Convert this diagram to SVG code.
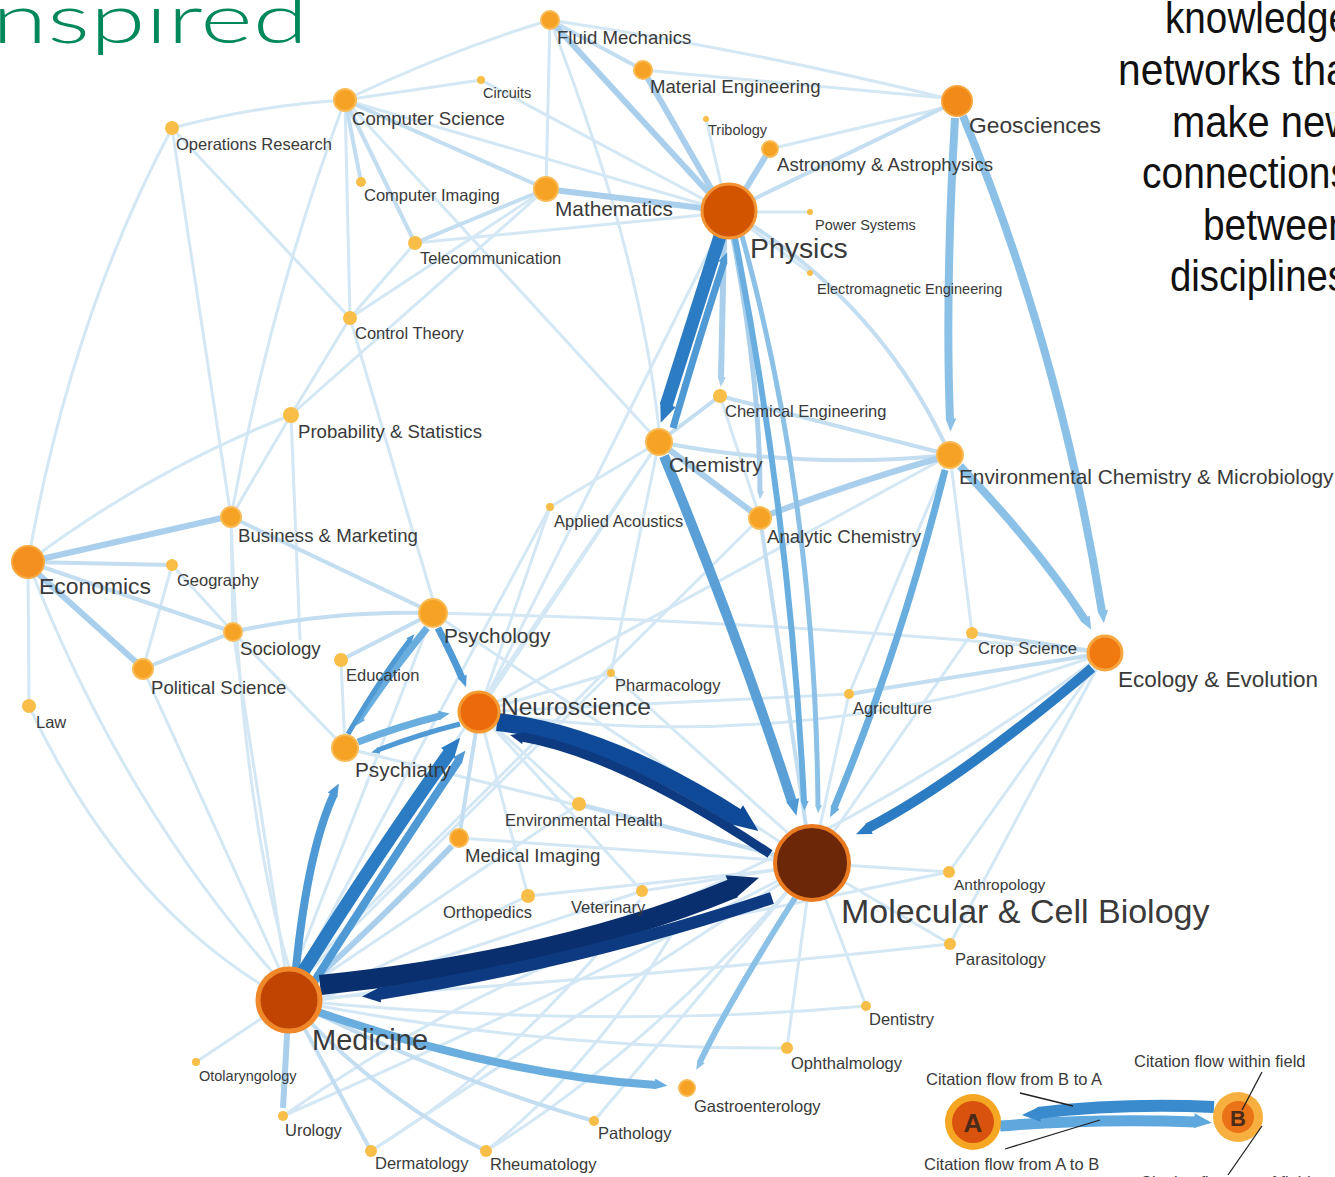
<svg xmlns="http://www.w3.org/2000/svg" width="1335" height="1177" viewBox="0 0 1335 1177">
<style>
text{font-family:"Liberation Sans",Arial,sans-serif;fill:#3a3a3a}
.xs{font-size:14.5px}.s{font-size:16.5px}.m{font-size:18.6px}.l{font-size:20.8px}
.ns{fill:#f8be48}
.nm{fill:#f6a225;stroke:#f9bb55;stroke-width:2}
.l0{fill:none;stroke:#d4e7f5;stroke-width:3}
.l1{fill:none;stroke:#c3ddf1;stroke-width:4}
.l2{fill:none;stroke:#a9cfec;stroke-width:6}
.tk{fill:none}
.lead{stroke:#222;stroke-width:1.3;fill:none}
.side{font-family:"Liberation Sans Narrow","Liberation Sans",Arial,sans-serif;font-size:44px;fill:#111;text-anchor:start}
</style>
<defs>
<marker id="a-navy" viewBox="0 0 10 10" refX="1" refY="5" markerWidth="1.6" markerHeight="1.5" orient="auto"><path d="M0,0 L10,5 L0,8.4 z" fill="#0a2f6e"/></marker>
<marker id="a-navy2" viewBox="0 0 10 10" refX="1" refY="5" markerWidth="1.6" markerHeight="1.5" orient="auto"><path d="M0,0 L10,5 L0,8.4 z" fill="#0f4a98"/></marker>
<marker id="a-navy3" viewBox="0 0 10 10" refX="1" refY="5" markerWidth="1.6" markerHeight="1.5" orient="auto"><path d="M0,0 L10,5 L0,8.4 z" fill="#0d3a80"/></marker>
<marker id="a-b1" viewBox="0 0 10 10" refX="1" refY="5" markerWidth="1.6" markerHeight="1.5" orient="auto"><path d="M0,0 L10,5 L0,8.4 z" fill="#2b7cc2"/></marker>
<marker id="a-b2" viewBox="0 0 10 10" refX="1" refY="5" markerWidth="1.7" markerHeight="1.6" orient="auto"><path d="M0,0 L10,5 L0,8.4 z" fill="#4f9ad4"/></marker>
<marker id="a-b3" viewBox="0 0 10 10" refX="1" refY="5" markerWidth="1.7" markerHeight="1.6" orient="auto"><path d="M0,0 L10,5 L0,8.4 z" fill="#6aaedf"/></marker>
<marker id="a-b4" viewBox="0 0 10 10" refX="1" refY="5" markerWidth="1.7" markerHeight="1.6" orient="auto"><path d="M0,0 L10,5 L0,8.4 z" fill="#8cc1e7"/></marker>
<marker id="a-b5" viewBox="0 0 10 10" refX="1" refY="5" markerWidth="1.7" markerHeight="1.6" orient="auto"><path d="M0,0 L10,5 L0,8.4 z" fill="#a9cfec"/></marker>
<marker id="a-lg1" viewBox="0 0 10 10" refX="1" refY="5" markerWidth="1.8" markerHeight="1.6" orient="auto"><path d="M0,0 L10,5 L0,8.4 z" fill="#5ea8de"/></marker>
<marker id="a-lg2" viewBox="0 0 10 10" refX="1" refY="5" markerWidth="1.6" markerHeight="1.5" orient="auto"><path d="M0,0 L10,5 L0,8.4 z" fill="#3a8bcd"/></marker>
</defs>
<rect width="1335" height="1177" fill="#ffffff"/>

<text x="-8" y="43" font-family="Lato,'Open Sans',sans-serif" font-weight="300" font-size="68" style="fill:#00885a;font-family:Lato,'Open Sans',sans-serif" textLength="316" lengthAdjust="spacingAndGlyphs">nspired</text>

<g id="side-text">
<text class="side" x="1165" y="33" textLength="185" lengthAdjust="spacingAndGlyphs">knowledge</text>
<text class="side" x="1118" y="85" textLength="242" lengthAdjust="spacingAndGlyphs">networks that</text>
<text class="side" x="1172" y="137" textLength="182" lengthAdjust="spacingAndGlyphs">make new</text>
<text class="side" x="1142" y="188" textLength="208" lengthAdjust="spacingAndGlyphs">connections</text>
<text class="side" x="1203" y="240" textLength="147" lengthAdjust="spacingAndGlyphs">between</text>
<text class="side" x="1170" y="291" textLength="177" lengthAdjust="spacingAndGlyphs">disciplines</text>
</g>

<g id="connectors">
<path class="l0" d="M172,128 Q260,105 345,100"/>
<path class="l0" d="M172,128 L350,318"/>
<path class="l0" d="M172,128 L231,517"/>
<path class="l0" d="M172,128 Q70,320 28,562"/>
<path class="l0" d="M345,100 Q450,50 550,20"/>
<path class="l0" d="M345,100 L481,80"/>
<path class="l0" d="M345,100 L350,318"/>
<path class="l0" d="M345,100 Q270,300 231,517"/>
<path class="l0" d="M345,100 L705,205"/>
<path class="l0" d="M345,100 L659,442"/>
<path class="l0" d="M481,80 L705,200"/>
<path class="l0" d="M550,20 L546,189"/>
<path class="l0" d="M550,20 Q750,50 945,98"/>
<path class="l0" d="M550,20 Q640,250 659,430"/>
<path class="l0" d="M643,70 L945,98"/>
<path class="l0" d="M706,119 L722,188"/>
<path class="l0" d="M770,149 L943,108"/>
<path class="l0" d="M810,212 L756,212"/>
<path class="l0" d="M810,273 L750,228"/>
<path class="l0" d="M415,243 L703,215"/>
<path class="l0" d="M415,243 L350,318"/>
<path class="l0" d="M546,189 L350,318"/>
<path class="l0" d="M291,415 L546,189"/>
<path class="l0" d="M291,415 Q150,470 28,562"/>
<path class="l0" d="M291,415 L231,517"/>
<path class="l0" d="M291,415 L300,640"/>
<path class="l0" d="M350,318 L433,600"/>
<path class="l0" d="M350,318 L291,415"/>
<path class="l0" d="M231,517 L233,632"/>
<path class="l0" d="M231,517 Q240,800 289,968"/>
<path class="l0" d="M28,562 L29,706"/>
<path class="l0" d="M28,562 Q120,800 275,975"/>
<path class="l0" d="M172,565 L143,669"/>
<path class="l0" d="M172,565 L233,632"/>
<path class="l0" d="M233,632 L345,748"/>
<path class="l0" d="M233,632 L285,968"/>
<path class="l0" d="M143,669 L280,970"/>
<path class="l0" d="M29,706 Q120,900 270,990"/>
<path class="l0" d="M433,613 Q770,620 1105,653"/>
<path class="l0" d="M433,613 L295,968"/>
<path class="l0" d="M341,660 L345,748"/>
<path class="l0" d="M479,712 L611,673"/>
<path class="l0" d="M479,712 L579,804"/>
<path class="l0" d="M479,712 L528,896"/>
<path class="l0" d="M479,712 L642,891"/>
<path class="l0" d="M479,712 Q800,760 1105,653"/>
<path class="l0" d="M479,712 L659,442"/>
<path class="l0" d="M479,712 L550,507"/>
<path class="l0" d="M479,712 L849,694"/>
<path class="l0" d="M479,712 L950,455"/>
<path class="l0" d="M659,442 L300,970"/>
<path class="l0" d="M659,442 L611,673"/>
<path class="l0" d="M659,442 L550,507"/>
<path class="l0" d="M720,396 L760,518"/>
<path class="l0" d="M760,518 L300,975"/>
<path class="l0" d="M729,211 L479,712"/>
<path class="l0" d="M950,455 L972,633"/>
<path class="l0" d="M950,455 L849,694"/>
<path class="l0" d="M812,863 L849,694"/>
<path class="l0" d="M812,863 L972,633"/>
<path class="l0" d="M812,863 L949,872"/>
<path class="l0" d="M812,863 L950,944"/>
<path class="l0" d="M812,863 L866,1006"/>
<path class="l0" d="M812,863 L787,1048"/>
<path class="l0" d="M812,863 L594,1121"/>
<path class="l0" d="M812,863 Q650,1050 486,1151"/>
<path class="l0" d="M812,863 Q600,1000 371,1151"/>
<path class="l0" d="M812,863 Q550,1000 283,1116"/>
<path class="l0" d="M812,863 L433,613"/>
<path class="l0" d="M812,863 L345,748"/>
<path class="l0" d="M1105,653 L949,872"/>
<path class="l0" d="M1105,653 L950,944"/>
<path class="l0" d="M1105,653 Q700,950 320,1000"/>
<path class="l0" d="M289,1000 Q600,1030 866,1006"/>
<path class="l0" d="M289,1000 Q540,1050 787,1048"/>
<path class="l0" d="M289,1000 L196,1062"/>
<path class="l0" d="M289,1000 Q620,940 949,872"/>
<path class="l0" d="M289,1000 Q620,980 950,944"/>
<path class="l0" d="M459,838 L775,860"/>
<path class="l0" d="M579,804 L310,985"/>
<path class="l0" d="M528,896 L320,995"/>
<path class="l0" d="M528,896 L775,870"/>
<path class="l0" d="M642,891 L775,870"/>
<path class="l0" d="M642,891 L320,998"/>
<path class="l0" d="M611,673 L790,835"/>
<path class="l0" d="M611,673 L305,975"/>
<path class="l0" d="M550,507 L300,972"/>
<path class="l0" d="M283,1116 Q420,1020 560,960"/>
<path class="l0" d="M371,1151 Q520,1060 640,900"/>
<path class="l0" d="M486,1151 Q600,1060 680,920"/>
<path class="l1" d="M345,100 L415,243"/>
<path class="l1" d="M345,100 L546,189"/>
<path class="l1" d="M345,100 L361,182"/>
<path class="l1" d="M550,20 L643,70"/>
<path class="l1" d="M957,101 L729,211"/>
<path class="l1" d="M546,189 L415,243"/>
<path class="l1" d="M231,517 L433,613"/>
<path class="l1" d="M28,562 L172,565"/>
<path class="l1" d="M28,562 L233,632"/>
<path class="l1" d="M233,632 Q330,610 433,613"/>
<path class="l1" d="M233,632 L143,669"/>
<path class="l1" d="M433,613 L341,660"/>
<path class="l1" d="M479,712 L459,838"/>
<path class="l1" d="M659,442 L720,396"/>
<path class="l1" d="M659,442 Q800,470 950,455"/>
<path class="l1" d="M720,396 L950,455"/>
<path class="l1" d="M760,518 L806,826"/>
<path class="l1" d="M729,211 Q880,300 950,455"/>
<path class="l1" d="M1105,653 L849,694"/>
<path class="l1" d="M1105,653 L972,633"/>
<path class="l1" d="M289,1000 Q450,1080 594,1121"/>
<path class="l1" d="M289,1000 Q380,1100 486,1151"/>
<path class="l1" d="M289,1000 L371,1151"/>
<path class="l1" d="M579,804 L775,855"/>
<path class="l2" d="M28,562 L222,518"/>
<path class="l2" d="M36,572 L136,662"/>
<path class="l2" d="M289,1000 L283,1108"/>
<path class="l2" d="M659,442 L752,512"/>
<path class="l2" d="M760,518 Q860,480 940,458"/>
<path class="l2" d="M643,70 L712,190"/>
<path class="l2" d="M550,20 L708,192"/>
<path class="l2" d="M546,189 L702,208"/>
<path class="l2" d="M770,149 L745,190"/>
<path class="l2" d="M452,846 Q380,920 312,982"/>

<path class="tk" d="M724,238 L721,378" stroke="#a9cfec" stroke-width="6" marker-end="url(#a-b5)"/>
<path class="tk" d="M733,238 Q760,380 760,492" stroke="#a9cfec" stroke-width="5" marker-end="url(#a-b5)"/>
<path class="tk" d="M955,118 Q945,290 950,420" stroke="#8cc1e7" stroke-width="8" marker-end="url(#a-b4)"/>
<path class="tk" d="M963,116 Q1060,350 1102,612" stroke="#8cc1e7" stroke-width="8" marker-end="url(#a-b4)"/>
<path class="tk" d="M960,466 Q1040,550 1085,620" stroke="#8cc1e7" stroke-width="8" marker-end="url(#a-b4)"/>
<path class="tk" d="M945,470 Q900,650 834,808" stroke="#6aaedf" stroke-width="7" marker-end="url(#a-b3)"/>
<path class="tk" d="M735,238 Q790,520 804,802" stroke="#6aaedf" stroke-width="6" marker-end="url(#a-b3)"/>
<path class="tk" d="M742,236 Q815,500 818,806" stroke="#8cc1e7" stroke-width="5" marker-end="url(#a-b4)"/>
<path class="tk" d="M664,456 Q740,640 792,802" stroke="#5aa0d6" stroke-width="10" marker-end="url(#a-b2)"/>
<path class="tk" d="M1092,668 Q960,780 868,828" stroke="#2b7cc2" stroke-width="10" marker-end="url(#a-b1)"/>
<path class="tk" d="M318,1012 Q500,1075 656,1085" stroke="#6aaedf" stroke-width="8" marker-end="url(#a-b3)"/>
<path class="tk" d="M795,898 Q730,1000 700,1062" stroke="#8cc1e7" stroke-width="6" marker-end="url(#a-b4)"/>
<path class="tk" d="M720,236 Q690,330 666,406" stroke="#2b7cc2" stroke-width="13" marker-end="url(#a-b1)"/>
<path class="tk" d="M673,428 Q700,335 724,262" stroke="#4f9ad4" stroke-width="7" marker-end="url(#a-b2)"/>
<path class="tk" d="M438,628 Q452,655 462,678" stroke="#4f9ad4" stroke-width="7" marker-end="url(#a-b2)"/>
<path class="tk" d="M427,628 Q385,680 360,718" stroke="#6aaedf" stroke-width="7" marker-end="url(#a-b3)"/>
<path class="tk" d="M348,734 Q382,676 410,640" stroke="#4f9ad4" stroke-width="5" marker-end="url(#a-b2)"/>
<path class="tk" d="M358,742 Q400,726 440,716" stroke="#6aaedf" stroke-width="7" marker-end="url(#a-b3)"/>
<path class="tk" d="M460,724 Q420,734 378,750" stroke="#4f9ad4" stroke-width="5" marker-end="url(#a-b2)"/>
<path class="tk" d="M296,968 Q308,850 334,794" stroke="#4f9ad4" stroke-width="8" marker-end="url(#a-b2)"/>
<path class="tk" d="M314,982 Q393,858 459,760" stroke="#4f9ad4" stroke-width="8" marker-end="url(#a-b2)"/>
<path class="tk" d="M303,972 Q380,850 450,752" stroke="#2b7cc2" stroke-width="13" marker-end="url(#a-b1)"/>
<path class="tk" d="M497,722 Q605,733 738,818" stroke="#0f4a98" stroke-width="18" marker-end="url(#a-navy2)"/>
<path class="tk" d="M770,854 Q620,754 522,737" stroke="#0d3a80" stroke-width="9" marker-end="url(#a-navy3)"/>
<path class="tk" d="M320,985 Q560,960 734,888" stroke="#0a2f6e" stroke-width="20" marker-end="url(#a-navy)"/>
<path class="tk" d="M772,898 Q580,962 378,994" stroke="#0d3a80" stroke-width="12" marker-end="url(#a-navy3)"/>
</g>

<g id="n-fluid"><circle class="nm" cx="550" cy="20" r="9"/><text class="m" x="557" y="44">Fluid Mechanics</text></g>
<g id="n-material"><circle class="nm" cx="643" cy="70" r="9"/><text class="m" x="650" y="93">Material Engineering</text></g>
<g id="n-circuits"><circle class="ns" cx="481" cy="80" r="4"/><text class="xs" x="483" y="98">Circuits</text></g>
<g id="n-cs"><circle class="nm" cx="345" cy="100" r="11"/><text class="m" x="352" y="125">Computer Science</text></g>
<g id="n-or"><circle class="ns" cx="172" cy="128" r="7"/><text class="s" x="176" y="150">Operations Research</text></g>
<g id="n-tribology"><circle class="ns" cx="706" cy="119" r="3"/><text class="xs" x="708" y="135">Tribology</text></g>
<g id="n-geo"><circle cx="957" cy="101" r="15" fill="#f28a1a" stroke="#f7a43c" stroke-width="2"/><text x="969" y="133" font-size="22.8">Geosciences</text></g>
<g id="n-astro"><circle class="nm" cx="770" cy="149" r="8"/><text class="m" x="777" y="171">Astronomy &amp; Astrophysics</text></g>
<g id="n-cimg"><circle class="ns" cx="361" cy="182" r="5"/><text class="s" x="364" y="201">Computer Imaging</text></g>
<g id="n-math"><circle class="nm" cx="546" cy="189" r="12"/><text class="l" x="555" y="216">Mathematics</text></g>
<g id="n-physics"><circle cx="729" cy="211" r="27" fill="#d35400" stroke="#f29433" stroke-width="3"/><text x="750" y="258" font-size="28.4">Physics</text></g>
<g id="n-power"><circle class="ns" cx="810" cy="212" r="3"/><text class="xs" x="815" y="230">Power Systems</text></g>
<g id="n-telecom"><circle class="ns" cx="415" cy="243" r="7"/><text class="s" x="420" y="264">Telecommunication</text></g>
<g id="n-em"><circle class="ns" cx="810" cy="273" r="3"/><text class="xs" x="817" y="294">Electromagnetic Engineering</text></g>
<g id="n-control"><circle class="ns" cx="350" cy="318" r="7"/><text class="s" x="355" y="339">Control Theory</text></g>
<g id="n-chemeng"><circle class="ns" cx="720" cy="396" r="7"/><text class="s" x="725" y="417">Chemical Engineering</text></g>
<g id="n-prob"><circle class="ns" cx="291" cy="415" r="8"/><text class="m" x="298" y="438">Probability &amp; Statistics</text></g>
<g id="n-chem"><circle class="nm" cx="659" cy="442" r="13"/><text class="l" x="669" y="472">Chemistry</text></g>
<g id="n-env"><circle class="nm" cx="950" cy="455" r="13"/><text class="l" x="959" y="484">Environmental Chemistry &amp; Microbiology</text></g>
<g id="n-acoustics"><circle class="ns" cx="550" cy="507" r="4"/><text class="s" x="554" y="527">Applied Acoustics</text></g>
<g id="n-analytic"><circle class="nm" cx="760" cy="518" r="11"/><text class="m" x="767" y="543">Analytic Chemistry</text></g>
<g id="n-business"><circle class="nm" cx="231" cy="517" r="10"/><text class="m" x="238" y="542">Business &amp; Marketing</text></g>
<g id="n-econ"><circle cx="28" cy="562" r="16" fill="#f39020" stroke="#f7a83e" stroke-width="2"/><text x="39" y="594" font-size="22.9">Economics</text></g>
<g id="n-geog"><circle class="ns" cx="172" cy="565" r="6"/><text class="s" x="177" y="586">Geography</text></g>
<g id="n-psych"><circle class="nm" cx="433" cy="613" r="14"/><text class="l" x="444" y="643">Psychology</text></g>
<g id="n-soc"><circle class="nm" cx="233" cy="632" r="9"/><text class="m" x="240" y="655">Sociology</text></g>
<g id="n-crop"><circle class="ns" cx="972" cy="633" r="6"/><text class="s" x="978" y="654">Crop Science</text></g>
<g id="n-eco"><circle cx="1105" cy="653" r="17" fill="#f07a10" stroke="#f8a640" stroke-width="3"/><text x="1118" y="687" font-size="22.5">Ecology &amp; Evolution</text></g>
<g id="n-edu"><circle class="ns" cx="341" cy="660" r="7"/><text class="s" x="346" y="681">Education</text></g>
<g id="n-polsci"><circle class="nm" cx="143" cy="669" r="10"/><text class="m" x="151" y="694">Political Science</text></g>
<g id="n-pharm"><circle class="ns" cx="611" cy="673" r="4"/><text class="s" x="615" y="691">Pharmacology</text></g>
<g id="n-agri"><circle class="ns" cx="849" cy="694" r="5"/><text class="s" x="853" y="714">Agriculture</text></g>
<g id="n-neuro"><circle cx="479" cy="712" r="20" fill="#ed6a0c" stroke="#f59a30" stroke-width="3"/><text x="501" y="715" font-size="24.5">Neuroscience</text></g>
<g id="n-law"><circle class="ns" cx="29" cy="706" r="7"/><text class="s" x="36" y="728">Law</text></g>
<g id="n-psychiatry"><circle class="nm" cx="345" cy="748" r="13"/><text class="l" x="355" y="777">Psychiatry</text></g>
<g id="n-envhealth"><circle class="ns" cx="579" cy="804" r="7"/><text class="s" x="505" y="826">Environmental Health</text></g>
<g id="n-medimg"><circle class="nm" cx="459" cy="838" r="9"/><text class="m" x="465" y="862">Medical Imaging</text></g>
<g id="n-mcb"><circle cx="812" cy="863" r="37" fill="#6b2707" stroke="#e97a20" stroke-width="4"/><text x="841" y="923" font-size="34">Molecular &amp; Cell Biology</text></g>
<g id="n-anthro"><circle class="ns" cx="949" cy="872" r="6"/><text class="xs" x="954" y="890" style="font-size:15.5px">Anthropology</text></g>
<g id="n-ortho"><circle class="ns" cx="528" cy="896" r="7"/><text class="s" x="443" y="918">Orthopedics</text></g>
<g id="n-vet"><circle class="ns" cx="642" cy="891" r="6"/><text class="s" x="571" y="913">Veterinary</text></g>
<g id="n-parasit"><circle class="ns" cx="950" cy="944" r="6"/><text class="s" x="955" y="965">Parasitology</text></g>
<g id="n-medicine"><circle cx="289" cy="1000" r="31" fill="#c04402" stroke="#f0882a" stroke-width="5"/><text x="312" y="1050" font-size="29">Medicine</text></g>
<g id="n-dent"><circle class="ns" cx="866" cy="1006" r="5"/><text class="s" x="869" y="1025">Dentistry</text></g>
<g id="n-ophth"><circle class="ns" cx="787" cy="1048" r="6"/><text class="s" x="791" y="1069">Ophthalmology</text></g>
<g id="n-oto"><circle class="ns" cx="196" cy="1062" r="4"/><text class="xs" x="199" y="1081">Otolaryngology</text></g>
<g id="n-gastro"><circle class="nm" cx="687" cy="1088" r="8"/><text class="s" x="694" y="1112">Gastroenterology</text></g>
<g id="n-uro"><circle class="ns" cx="283" cy="1116" r="5"/><text class="s" x="285" y="1136">Urology</text></g>
<g id="n-path"><circle class="ns" cx="594" cy="1121" r="5"/><text class="s" x="598" y="1139">Pathology</text></g>
<g id="n-derm"><circle class="ns" cx="371" cy="1151" r="6"/><text class="s" x="375" y="1169">Dermatology</text></g>
<g id="n-rheum"><circle class="ns" cx="486" cy="1151" r="6"/><text class="s" x="490" y="1170">Rheumatology</text></g>

<g id="legend">
<path d="M1000,1126 Q1100,1118 1196,1122" fill="none" stroke="#5ea8de" stroke-width="11" marker-end="url(#a-lg1)"/>
<path d="M1214,1107 Q1120,1103 1038,1113" fill="none" stroke="#3a8bcd" stroke-width="12" marker-end="url(#a-lg2)"/>
<g id="n-legend-a"><circle cx="973" cy="1122" r="28" fill="#f5a623"/><circle cx="973" cy="1122" r="21" fill="#d9530f"/><text x="973" y="1132" font-size="26" font-weight="bold" text-anchor="middle" style="fill:#4a2a18">A</text></g>
<g id="n-legend-b"><circle cx="1238" cy="1117" r="25" fill="#f7b040"/><circle cx="1238" cy="1117" r="16" fill="#ea7318"/><text x="1238" y="1126" font-size="22" font-weight="bold" text-anchor="middle" style="fill:#4a2a18">B</text></g>
<path class="lead" d="M1020,1093 L1073,1106"/>
<path class="lead" d="M1005,1149 L1100,1120"/>
<path class="lead" d="M1262,1072 L1242,1110"/>
<path class="lead" d="M1262,1126 L1228,1175"/>
<text class="s" x="926" y="1085">Citation flow from B to A</text>
<text class="s" x="924" y="1170">Citation flow from A to B</text>
<text class="s" x="1134" y="1067">Citation flow within field</text>
<text class="s" x="1140" y="1188">Citation flow out of field</text>
</g>
</svg>
